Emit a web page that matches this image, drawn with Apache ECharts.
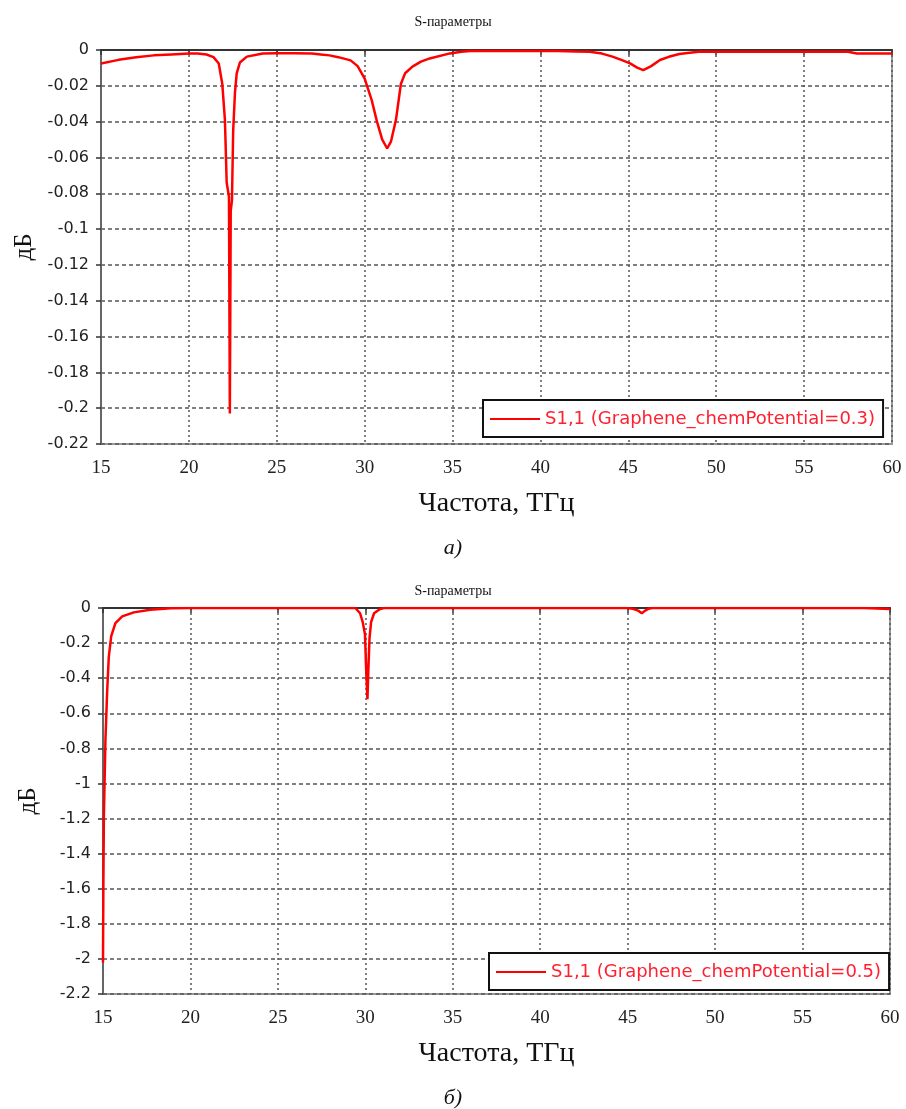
<!DOCTYPE html>
<html><head><meta charset="utf-8">
<script src="https://cdn.jsdelivr.net/npm/echarts@6/dist/echarts.min.js"></script>
<style>html,body{margin:0;padding:0;background:#fff}#c{width:906px;height:1109px}</style>
</head><body><div id="c"></div>
<script>
// ---- data (chart a) ----
const freqA = [15, 16, 17, 18, 19, 20, 20.5, 21, 21.4, 21.7, 21.9, 22.05, 22.15, 22.28, 22.33, 22.38, 22.45, 22.52, 22.62, 22.72, 22.9, 23.3, 24.2, 25, 26, 27, 27.5, 28, 28.5, 29.2, 29.6, 30, 30.4, 30.7, 31.0, 31.28, 31.5, 31.78, 32.06, 32.3, 32.72, 33.2, 33.7, 34.85, 35.5, 36, 38, 40, 41, 42, 42.8, 43.5, 44.1, 44.6, 45.1, 45.5, 45.85, 46.3, 46.8, 47.3, 47.9, 48.5, 49, 50, 52, 55, 57.5, 58, 60];
const valA = [-0.0075, -0.0055, -0.004, -0.003, -0.0025, -0.002, -0.002, -0.0025, -0.004, -0.0075, -0.019, -0.039, -0.074, -0.082, -0.203, -0.09, -0.084, -0.045, -0.024, -0.013, -0.007, -0.0037, -0.002, -0.0018, -0.0018, -0.002, -0.0025, -0.003, -0.004, -0.0058, -0.009, -0.016, -0.028, -0.04, -0.05, -0.055, -0.051, -0.039, -0.019, -0.013, -0.0093, -0.0065, -0.0047, -0.0019, -0.001, -0.0005, -0.0005, -0.0005, -0.0005, -0.0008, -0.001, -0.002, -0.0037, -0.0055, -0.0075, -0.0098, -0.0112, -0.009, -0.0056, -0.0038, -0.0022, -0.0015, -0.001, -0.001, -0.001, -0.001, -0.001, -0.002, -0.002];
// ---- data (chart b) ----
const freqB = [15.0, 15.02, 15.05, 15.14, 15.24, 15.33, 15.47, 15.71, 16.1, 16.76, 17.7, 18.9, 20, 25, 29, 29.43, 29.7, 29.85, 29.98, 30.05, 30.12, 30.17, 30.24, 30.33, 30.5, 30.8, 31.05, 35, 40, 44.95, 45.3, 45.6, 45.81, 46.0, 46.2, 46.4, 50, 55, 58.5, 58.6, 60];
const valB = [-2.02, -1.6, -1.19, -0.75, -0.47, -0.28, -0.16, -0.086, -0.048, -0.025, -0.01, -0.002, 0, 0, 0, 0, -0.03, -0.08, -0.15, -0.36, -0.52, -0.36, -0.17, -0.08, -0.03, -0.008, 0, 0, 0, 0, -0.005, -0.015, -0.03, -0.015, -0.004, 0, 0, 0, 0, -0.006, -0.006];
const titleText = 'S-параметры';
const xName = 'Частота, ТГц';
const yName = 'дБ';
const legendA = 'S1,1 (Graphene_chemPotential=0.3)';
const legendB = 'S1,1 (Graphene_chemPotential=0.5)';
const captions = ['а)', 'б)'];

const serif = 'Liberation Serif';
const sans = 'DejaVu Sans';
function pairs(xs, ys){ return xs.map((x,i)=>[x, ys[i]]); }
function xAx(gi){
  return {type:'value', gridIndex:gi, min:15, max:60, interval:5,
    name:xName, nameLocation:'middle', nameGap:46,
    nameTextStyle:{fontFamily:serif, fontSize:28, color:'#111'},
    axisLine:{lineStyle:{color:'#333', width:2}},
    axisTick:{show:true, length:5, lineStyle:{color:'#333', width:1.5}},
    axisLabel:{fontFamily:serif, fontSize:19, color:'#222', margin:15},
    splitLine:{show:true, lineStyle:{color:'#555', type:[2,3], width:1.5}}};
}
function yAx(gi, min, interval){
  return {type:'value', gridIndex:gi, min:min, max:0, interval:interval,
    name:yName, nameLocation:'middle', nameGap:62, nameRotate:90,
    nameTextStyle:{fontFamily:serif, fontSize:25, color:'#111'},
    axisLine:{show:true, lineStyle:{color:'#666', width:2}},
    axisTick:{show:true, length:5, lineStyle:{color:'#333', width:1.5}},
    axisLabel:{fontFamily:sans, fontSize:16, color:'#222', margin:12},
    splitLine:{show:true, lineStyle:{color:'#555', type:[4,3], width:1.5}}};
}
function lg(name, gi, top, left){
  return {data:[name], left:left, top:top, orient:'horizontal',
    backgroundColor:'#fff', borderColor:'#111', borderWidth:2, borderRadius:0,
    padding:[10,8,9,7], itemWidth:50, itemHeight:2, icon:'rect', itemGap:8,
    textStyle:{fontFamily:sans, fontSize:18, color:'#ff2030'}};
}
const chart = echarts.init(document.getElementById('c'));
chart.setOption({
  backgroundColor:'#fff',
  animation:false,
  title:[
    {text:titleText, left:'center', top:10, textStyle:{fontFamily:serif, fontSize:14, fontWeight:'normal', color:'#111'}},
    {text:captions[0], left:'center', top:532, textStyle:{fontFamily:serif, fontSize:22, fontStyle:'italic', fontWeight:'normal', color:'#111'}},
    {text:titleText, left:'center', top:579, textStyle:{fontFamily:serif, fontSize:14, fontWeight:'normal', color:'#111'}},
    {text:captions[1], left:'center', top:1082, textStyle:{fontFamily:serif, fontSize:22, fontStyle:'italic', fontWeight:'normal', color:'#111'}}
  ],
  grid:[
    {left:101, right:14, top:50, bottom:665, show:true, borderColor:'#999', borderWidth:2, backgroundColor:'#fff'},
    {left:103, right:16, top:608, bottom:115, show:true, borderColor:'#999', borderWidth:2, backgroundColor:'#fff'}
  ],
  xAxis:[xAx(0), xAx(1)],
  yAxis:[yAx(0, -0.22, 0.02), yAx(1, -2.2, 0.2)],
  legend:[lg(legendA, 0, 400, 483), lg(legendB, 1, 953, 489)],
  series:[
    {name:legendA, type:'line', xAxisIndex:0, yAxisIndex:0, data:pairs(freqA, valA), symbol:'none', smooth:false,
      lineStyle:{color:'#ff0000', width:2.5}, itemStyle:{color:'#ff0000'}},
    {name:legendB, type:'line', xAxisIndex:1, yAxisIndex:1, data:pairs(freqB, valB), symbol:'none', smooth:false,
      lineStyle:{color:'#ff0000', width:2.5}, itemStyle:{color:'#ff0000'}}
  ]
});
</script></body></html>
